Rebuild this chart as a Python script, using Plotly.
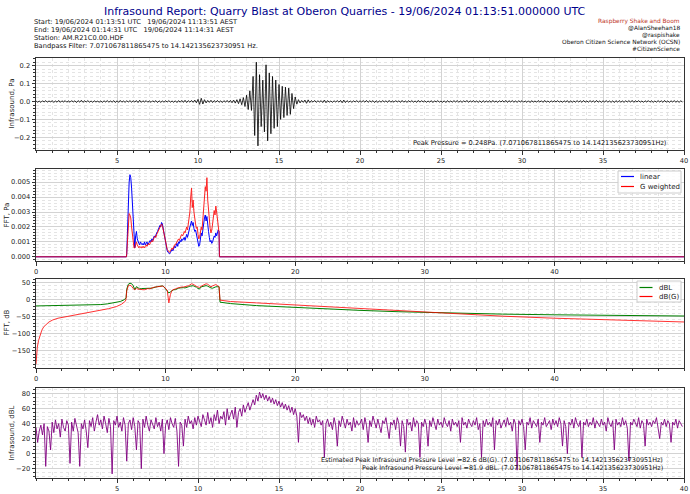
import numpy as np
import plotly.graph_objects as go

# ---------------- DATA ----------------
# Panel 1: band-passed infrasound waveform, milli-Pascal, one value per 0.1 s
wave_dt = 0.1
wave_mpa = [
    3, -4, 2, -5, 4, -3, 5, -4, 3, -2, 4, -5, 3, -4, 6, -5, 4, -3, 5, -4,
    3, -4, 5, -3, 4, -6, 5, -4, 7, -5, 4, -3, 5, -4, 3, -5, 4, -3, 2, -4,
    3, -5, 4, -3, 5, -4, 3, -4, 5, -6, 4, -5, 6, -4, 3, -5, 4, -3, 5, -4,
    4, -3, 5, -6, 7, -5, 4, -3, 5, -4, 3, -5, 4, -3, 5, -6, 4, -5, 3, -4,
    4, -3, 5, -4, 3, -5, 4, -6, 5, -4, 6, -5, 7, -6, 5, -4, 6, -5, 8, -7,
    12, -16, 18, -14, 10, -8, 6, -5, 7, -6, 5, -4, 6, -5, 4, -6, 5, -4, 6, -5,
    6, -7, 8, -9, 10, -12, 15, -18, 22, -28, 35, -45, 60, -50, 140, -190, 220, -248, 150, -140,
    120, -170, 205, -220, 160, -180, 140, -150, 120, -140, 95, -100, 85, -90, 80, -78, 75, -72, 45, -40,
    25, -15, 10, -8, 6, -5, 8, -10, 9, -6, 5, -4, 6, -5, 4, -3, 5, -6, 8, -7,
    5, -4, 3, -5, 4, -3, 5, -4, 6, -7, 8, -6, 5, -4, 3, -5, 4, -3, 5, -4,
    4, -3, 5, -4, 6, -5, 4, -3, 5, -6, 4, -5, 3, -4, 5, -3, 4, -5, 6, -4,
    3, -4, 5, -3, 4, -5, 6, -4, 3, -5, 4, -3, 5, -4, 3, -5, 6, -4, 5, -3,
    4, -5, 3, -4, 5, -6, 4, -3, 5, -4, 3, -5, 4, -6, 5, -4, 3, -4, 5, -3,
    5, -4, 3, -5, 4, -3, 6, -5, 4, -3, 5, -4, 3, -5, 4, -6, 5, -4, 3, -4,
    4, -5, 6, -4, 3, -5, 4, -3, 5, -4, 6, -5, 4, -3, 5, -4, 3, -5, 4, -3,
    5, -4, 3, -5, 4, -6, 5, -4, 3, -4, 5, -3, 4, -5, 6, -4, 3, -5, 4, -3,
    4, -3, 5, -4, 3, -5, 4, -3, 5, -6, 4, -5, 3, -4, 5, -3, 4, -5, 6, -4,
    3, -4, 5, -3, 4, -5, 6, -4, 3, -5, 4, -3, 5, -4, 3, -5, 4, -6, 5, -4,
    5, -4, 3, -5, 4, -3, 5, -4, 6, -5, 4, -3, 5, -4, 3, -5, 4, -3, 5, -4,
    4, -5, 3, -4, 5, -3, 4, -5, 6, -4, 3, -5, 4, -3, 5, -4, 3, -5, 4, -3,
]

# Panel 2: FFT amplitude inside the pass band, units of 1e-4 Pa, bins of 0.0625 Hz from 7.0 Hz
fft_f0 = 7.0
fft_df = 0.0625
fft_linear = [
    2, 20, 38, 50, 55, 53, 46, 36, 24, 10,
    6, 14, 17, 12, 10, 9, 8, 10, 9, 8,
    9, 8, 10, 8, 9, 10, 8, 9, 10, 11,
    10, 12, 11, 13, 14, 13, 15, 16, 17, 18,
    19, 21, 20, 23, 22, 19, 16, 12, 9, 6,
    4, 3, 2, 2, 3, 4, 5, 4, 6, 7,
    6, 8, 9, 7, 10, 9, 11, 10, 12, 11,
    12, 13, 11, 14, 15, 13, 16, 18, 20, 22,
    24, 21, 23, 19, 17, 18, 15, 13, 9, 7,
    8, 12, 16, 14, 19, 22, 26, 28, 24, 27,
    20, 17, 13, 10, 11, 9, 10, 12, 14, 13,
    16, 14, 17, 18, 17,
]
fft_gweighted = [
    2, 14, 24, 29, 28, 26, 20, 14, 9, 6,
    6, 9, 10, 8, 7, 6, 7, 6, 6, 7,
    6, 7, 6, 7, 8, 7, 8, 9, 8, 9,
    10, 11, 10, 12, 13, 14, 13, 15, 16, 17,
    18, 19, 20, 22, 21, 18, 16, 12, 9, 7,
    5, 4, 3, 3, 4, 5, 6, 5, 7, 8,
    8, 9, 10, 11, 12, 11, 13, 14, 15, 14,
    15, 17, 16, 19, 20, 18, 22, 26, 30, 40,
    46, 33, 38, 30, 24, 22, 19, 20, 15, 12,
    13, 16, 20, 18, 26, 34, 40, 47, 44, 53,
    38, 30, 25, 19, 16, 18, 22, 27, 31, 28,
    34, 30, 25, 20, 16,
]

# Panel 3: FFT in dB
dbl_freq_pre = [0, 1, 2, 3, 4, 5, 5.5, 6, 6.5, 6.8, 6.95]
dbl_pre = [-19, -18.5, -18, -17.5, -16.5, -15, -13, -10, -6, -1, 5]
dbg_freq_pre = [0, 0.05, 0.1, 0.2, 0.3, 0.45, 0.6, 0.8, 1.0, 1.3, 1.7, 2.4, 3.0, 3.7, 4.3,
                5.0, 5.6, 6.2, 6.6, 6.9, 6.95]
dbg_pre = [-190, -160, -140, -120, -105, -90, -80, -72, -66, -60, -55, -50, -46, -41, -37,
           -32, -27, -21, -14, -5, 2]
db_band_f0 = 7.0
db_band_df = 0.125
dbl_band = [
    30, 44.6, 47.8, 46.3, 40.6, 28.6, 37.6, 33, 31, 32,
    32, 33, 32, 31, 33, 33, 33.8, 36, 36.5, 37.6,
    38.6, 39, 39.8, 37, 32, 25, 19, 22.5, 27, 28.6,
    28.6, 32, 33, 33.8, 34.6, 34.6, 33.8, 36.5, 37, 39,
    40.6, 40.3, 37.6, 36.5, 32, 31, 37, 38.6, 41.3, 40.6,
    39, 35.3, 33.8, 33, 36, 37, 37.6, 37.6,
]
dbg_band = [
    25, 40.6, 42, 39, 32, 28.6, 33, 30, 30, 28.6,
    28.6, 28.6, 31, 32, 31, 33, 33, 36, 36.5, 37.6,
    38, 39, 39.4, 37, 32, 27, -10, 15, 27, 30,
    31, 33, 34.6, 35.3, 36.5, 36.5, 37, 39, 39.8, 42.5,
    46, 44.6, 40.6, 38.6, 36.5, 35.3, 39, 41.3, 45, 45.9,
    44.6, 41, 37, 39.8, 42.8, 43.6, 41, 37,
]
db_freq_post = [14.2, 15, 17, 20, 25, 28, 30, 33, 36, 40, 44, 47, 50]
dbl_post = [-8, -12, -18, -24, -32, -36, -38, -41, -43, -45, -47, -48, -48.5]
dbg_post = [-2, -6, -10, -16, -26, -33, -38, -44, -49, -55, -60, -63, -66]

# Panel 4: infrasound level, dBL, one value per 0.1 s
spl_dbl = [
    35, 15, 30, 38, 25, 40, -17, 36, 30, 5, 42, 28, 45, 33, 40, 22, 46, 35, 30, 44,
    38, -13, 42, 30, 47, 35, 28, -17, 40, 33, 45, 30, 8, 44, 36, 48, 30, 42, 52, 38,
    45, 33, 50, 40, 28, 47, 36, -27, 44, 38, 50, 35, 42, 30, 48, 38, -10, 40, 45, 32,
    48, 36, 5, 44, 40, -20, 46, 35, 50, 38, 30, 45, 40, 33, 48, 36, 42, 30, 46, 0,
    38, 45, 32, 48, 40, 35, 47, 30, -17, 42, 38, 10, 46, 35, 50, 40, 44, 33, 48, 38,
    50, 42, 36, 52, 45, 38, 55, 40, 48, 35, 52, 44, 58, 40, 50, 46, 56, 38, 60, 45,
    52, 58, 46, 62, 35, 55, 60, 50, 65, 55, 62, 68, 58, 66, 72, 65, 78, 70, 82, 74,
    80, 72, 78, 70, 76, 68, 74, 66, 72, 64, 70, 62, 68, 60, 66, 58, 64, 55, 62, 52,
    60, 50, 15, 55, 48, 52, 44, 50, 40, 48, 38, 46, 35, 50, 42, 45, 38, 44, -5, 40,
    46, 36, 42, 32, 48, 38, 10, 44, 36, 50, 40, 34, 46, 38, 42, 30, 48, 35, 44, 38,
    40, 46, 32, 48, 38, 15, 44, 36, 50, 40, 34, 46, 38, 28, 44, 40, 48, 36, 20, 42,
    38, 45, 32, 48, 40, 10, 44, 36, 2, 46, 38, 42, 30, 48, 36, 44, 40, -5, 42, 36,
    46, 38, 10, 44, 36, 48, 40, 32, 46, 38, 42, 35, 48, 40, 36, 44, 30, 46, 38, 42,
    36, 44, 15, 48, 38, 42, 34, 46, 40, 36, 44, 38, 48, 32, 40, -5, 44, 36, 46, 38,
    42, 36, 48, 5, 44, 38, 46, 34, 40, 45, 36, 48, 38, 42, 30, 46, 40, -22, 44, 38,
    46, 36, 5, 42, 38, 48, 34, 44, 40, 36, 46, 15, 42, 38, 48, 36, 40, 44, 32, 46,
    38, 44, 36, 48, 40, 10, 44, 36, 0, 42, 38, 46, 34, 48, 40, 36, 44, -5, 42, 38,
    46, 36, 42, 38, 48, 34, 44, 40, 36, 46, 38, 42, 30, 48, 40, 36, 44, 5, 46, 38,
    42, 36, 48, 38, 44, 34, -10, 42, 38, 46, 40, 36, 48, 34, 44, 40, 10, 46, 38, 42,
    36, 44, 40, 48, 34, 20, 42, 38, 46, 36, 44, 40, 15, 42, 38, 46, 34, 44, 40, 36,
]

title_text = "Infrasound Report: Quarry Blast at Oberon Quarries - 19/06/2024 01:13:51.000000 UTC"
header_left = [
    "Start: 19/06/2024 01:13:51 UTC   19/06/2024 11:13:51 AEST",
    "End: 19/06/2024 01:14:31 UTC   19/06/2024 11:14:31 AEST",
    "Station: AM.R21C0.00.HDF",
    "Bandpass Filter: 7.071067811865475 to 14.142135623730951 Hz.",
]
header_right = [
    "@AlanSheehan18",
    "@raspishake",
    "Oberon Citizen Science Network (OCSN)",
    "#CitizenScience",
]
peak_text = "Peak Pressure = 0.248Pa. (7.071067811865475 to 14.142135623730951Hz)"
est_text = "Estimated Peak Infrasound Pressure Level =82.6 dB(G). (7.071067811865475 to 14.142135623730951Hz)"
pk_text = "Peak Infrasound Pressure Level =81.9 dBL. (7.071067811865475 to 14.142135623730951Hz)"
legend1_labels = ["linear", "G weighted"]
legend2_labels = ["dBL", "dB(G)"]

# ---------------- BUILD ----------------
W, H = 690, 494
ML, MR, MT, MB = 36, 6, 58, 16
PW, PH = W - ML - MR, H - MT - MB


def px(x):
    return (x - ML) / PW


def py(y):
    return 1 - (y - MT) / PH


FONT = "DejaVu Sans"
BLUE, RED, GREEN, PURPLE = "#0000ff", "#ff0000", "#008000", "#800080"
t = np.arange(len(wave_mpa)) * wave_dt
wave = np.array(wave_mpa) / 1000.0
t4 = np.arange(len(spl_dbl)) * wave_dt

fbin = fft_f0 + np.arange(len(fft_linear)) * fft_df
fft_x = np.concatenate([[0, fft_f0 - 0.02], fbin, [fbin[-1] + 0.03, 50.0]])
fft_lin_y = np.concatenate([[0, 0], np.array(fft_linear) * 1e-4, [0, 0]])
fft_g_y = np.concatenate([[0, 0], np.array(fft_gweighted) * 1e-4, [0, 0]])

dbband_x = db_band_f0 + np.arange(len(dbl_band)) * db_band_df
dbl_x = np.concatenate([dbl_freq_pre, dbband_x, db_freq_post])
dbl_y = np.concatenate([dbl_pre, dbl_band, dbl_post])
dbg_x = np.concatenate([dbg_freq_pre, dbband_x, db_freq_post])
dbg_y = np.concatenate([dbg_pre, dbg_band, dbg_post])

fig = go.Figure()
fig.add_trace(go.Scatter(x=t, y=wave, mode="lines", line=dict(color="black", width=0.8),
                         showlegend=False, xaxis="x", yaxis="y"))
fig.add_trace(go.Scatter(x=fft_x, y=fft_lin_y, mode="lines", name=legend1_labels[0],
                         line=dict(color=BLUE, width=1), showlegend=False, xaxis="x2", yaxis="y2"))
fig.add_trace(go.Scatter(x=fft_x, y=fft_g_y, mode="lines", name=legend1_labels[1],
                         line=dict(color=RED, width=1), opacity=0.85, showlegend=False,
                         xaxis="x2", yaxis="y2"))
fig.add_trace(go.Scatter(x=dbl_x, y=dbl_y, mode="lines", name=legend2_labels[0],
                         line=dict(color=GREEN, width=1), showlegend=False, xaxis="x3", yaxis="y3"))
fig.add_trace(go.Scatter(x=dbg_x, y=dbg_y, mode="lines", name=legend2_labels[1],
                         line=dict(color=RED, width=1), opacity=0.8, showlegend=False,
                         xaxis="x3", yaxis="y3"))
fig.add_trace(go.Scatter(x=t4, y=spl_dbl, mode="lines", line=dict(color=PURPLE, width=0.9),
                         showlegend=False, xaxis="x4", yaxis="y4"))

domains = {
    1: (py(150), py(58)),
    2: (py(261), py(169)),
    3: (py(368), py(279)),
    4: (py(478), py(388)),
}


def ax_common(**kw):
    d = dict(showline=True, linecolor="#333333", linewidth=1, mirror=True, automargin=False,
             ticks="outside", ticklen=3.5, tickwidth=0.8, tickcolor="#333333",
             showgrid=True, gridcolor="#d3d3d3", gridwidth=0.7,
             zeroline=False, tickfont=dict(family=FONT, size=6.7, color="#222222"))
    d.update(kw)
    return d


def minor(dt):
    return dict(dtick=dt, ticks="outside", ticklen=2, tickcolor="#333333",
                showgrid=True, gridcolor="#e4e4e4", griddash="dot", gridwidth=0.6)


time_ticks = [5, 10, 15, 20, 25, 30, 35, 40]
freq_ticks = [0, 10, 20, 30, 40]
fig.update_layout(
    xaxis=ax_common(domain=[0, 1], anchor="y", range=[0, 40], tickvals=time_ticks, minor=minor(1)),
    yaxis=ax_common(domain=list(domains[1]), anchor="x", range=[-0.271, 0.243],
                    tickvals=[-0.2, -0.1, 0.0, 0.1, 0.2], ticktext=["\u22120.2", "\u22120.1", "0.0", "0.1", "0.2"],
                    minor=minor(0.02)),
    xaxis2=ax_common(domain=[0, 1], anchor="y2", range=[0, 50.0], tickvals=freq_ticks, minor=minor(2)),
    yaxis2=ax_common(domain=list(domains[2]), anchor="x2", range=[-0.00028, 0.00588],
                     tickvals=[0, 0.001, 0.002, 0.003, 0.004, 0.005], tickformat=".3f", minor=minor(0.0002)),
    xaxis3=ax_common(domain=[0, 1], anchor="y3", range=[0, 50.0], tickvals=freq_ticks, minor=minor(2)),
    yaxis3=ax_common(domain=list(domains[3]), anchor="x3", range=[-201, 60],
                     tickvals=[-150, -100, -50, 0, 50], ticktext=["\u2212150", "\u2212100", "\u221250", "0", "50"],
                     minor=minor(10)),
    xaxis4=ax_common(domain=[0, 1], anchor="y4", range=[0, 40], tickvals=time_ticks, minor=minor(1)),
    yaxis4=ax_common(domain=list(domains[4]), anchor="x4", range=[-32.5, 87.5],
                     tickvals=[-20, 0, 20, 40, 60, 80], ticktext=["\u221220", "0", "20", "40", "60", "80"],
                     minor=minor(5)),
)

# manual matplotlib-style legends
shapes = []
ann = []


def add_legend(box, items):
    x0, y0, x1, y1 = box
    shapes.append(dict(type="rect", xref="paper", yref="paper", x0=px(x0), x1=px(x1), y0=py(y1), y1=py(y0),
                       line=dict(color="#cccccc", width=1), fillcolor="rgba(255,255,255,0.85)", layer="above"))
    for (lx0, lx1, ly, tx, label, col) in items:
        shapes.append(dict(type="line", xref="paper", yref="paper", x0=px(lx0), x1=px(lx1), y0=py(ly), y1=py(ly),
                           line=dict(color=col, width=1.2), layer="above"))
        ann.append(dict(text=label, x=px(tx), y=py(ly), xanchor="left", yanchor="middle",
                        font=dict(family=FONT, size=7, color="#222222")))


add_legend((618, 171, 681, 193), [(621, 634, 176.5, 638, legend1_labels[0], BLUE),
                                   (621, 634, 186.5, 638, legend1_labels[1], RED)])
add_legend((637, 281, 681, 302), [(639.5, 652.5, 287.5, 657, legend2_labels[0], GREEN),
                                   (639.5, 652.5, 296.5, 657, legend2_labels[1], RED)])

ann.append(dict(text=title_text, x=px(345), y=py(12), xanchor="center", yanchor="middle",
                font=dict(family=FONT, size=11, color="#00008b")))
for i, s in enumerate(header_left):
    ann.append(dict(text=s, x=px(32), y=py(22.3 + 7.8 * i), xanchor="left", yanchor="middle",
                    font=dict(family=FONT, size=6.7, color="#111111")))
ann.append(dict(text="Raspberry Shake and Boom", x=px(682), y=py(21.5), xanchor="right", yanchor="middle",
                font=dict(family=FONT, size=5.9, color="#c0392b")))
for i, s in enumerate(header_right):
    ann.append(dict(text=s, x=px(682), y=py(28.5 + 6.8 * i), xanchor="right", yanchor="middle",
                    font=dict(family=FONT, size=5.9, color="#111111")))
ann.append(dict(text=peak_text, x=px(668), y=py(143), xanchor="right", yanchor="middle",
                font=dict(family=FONT, size=6.6, color="#111111")))
ann.append(dict(text=est_text, x=px(665), y=py(459.5), xanchor="right", yanchor="middle",
                font=dict(family=FONT, size=6.4, color="#111111")))
ann.append(dict(text=pk_text, x=px(665), y=py(467.8), xanchor="right", yanchor="middle",
                font=dict(family=FONT, size=6.4, color="#111111")))
for lab, xc, yc in [("Infrasound, Pa", 11.5, 104), ("FFT, Pa", 6.5, 215), ("FFT, dB", 6.5, 323),
                    ("Infrasound, dBL", 11.5, 433)]:
    ann.append(dict(text=lab, x=px(xc), y=py(yc), xanchor="center", yanchor="middle", textangle=-90,
                    font=dict(family=FONT, size=7, color="#222222")))
for a in ann:
    a.update(xref="paper", yref="paper", showarrow=False)
fig.update_layout(annotations=ann, shapes=shapes)

fig.update_layout(width=W, height=H, margin=dict(l=ML, r=MR, t=MT, b=MB, autoexpand=False),
                  paper_bgcolor="white", plot_bgcolor="white", font=dict(family=FONT))
fig.write_html("out.html", config={"displayModeBar": False},
               post_script="document.body.style.margin='0px';")
